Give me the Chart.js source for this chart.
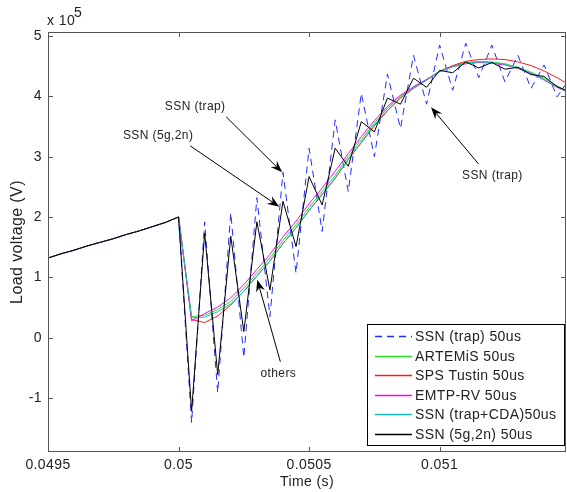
<!DOCTYPE html>
<html>
<head>
<meta charset="utf-8">
<script src="https://cdn.jsdelivr.net/npm/chart.js@4/dist/chart.umd.min.js"></script>
<style>
  html, body { margin: 0; padding: 0; background: #fff; }
</style>
</head>
<body>
<canvas id="chart" width="567" height="492"></canvas>
<script>
// time axis (s), one sample every 50 us
const time = [0.0495, 0.04955, 0.0496, 0.04965, 0.0497, 0.04975, 0.0498, 0.04985, 0.0499, 0.04995,
  0.05, 0.05005, 0.0501, 0.05015, 0.0502, 0.05025, 0.0503, 0.05035, 0.0504, 0.05045,
  0.0505, 0.05055, 0.0506, 0.05065, 0.0507, 0.05075, 0.0508, 0.05085, 0.0509, 0.05095,
  0.051, 0.05105, 0.0511, 0.05115, 0.0512, 0.05125, 0.0513, 0.05135, 0.0514, 0.05145, 0.0515];

// load voltage, in units of 1e5 V
const ssnTrap = [1.32, 1.39, 1.45, 1.52, 1.58, 1.64, 1.71, 1.77, 1.84, 1.91,
  2.00, -1.41, 1.92, -0.91, 2.07, -0.33, 2.32, 0.35, 2.74, 1.07,
  3.14, 1.76, 3.61, 2.42, 4.05, 3.00, 4.37, 3.47, 4.68, 3.87,
  4.85, 4.10, 4.88, 4.31, 4.85, 4.24, 4.68, 4.13, 4.52, 3.99, 4.31];
const artemis = [1.32, 1.39, 1.45, 1.52, 1.58, 1.64, 1.71, 1.77, 1.84, 1.91,
  2.00, 0.35, 0.37, 0.47, 0.60, 0.82, 1.07, 1.32, 1.61, 1.87,
  2.16, 2.42, 2.69, 3.00, 3.28, 3.56, 3.80, 4.00, 4.15, 4.28,
  4.42, 4.50, 4.56, 4.58, 4.57, 4.54, 4.48, 4.40, 4.30, 4.17, 4.07];
const spsTustin = [1.32, 1.39, 1.45, 1.52, 1.58, 1.64, 1.71, 1.77, 1.84, 1.91,
  2.00, 0.30, 0.25, 0.36, 0.54, 0.77, 1.02, 1.27, 1.56, 1.82,
  2.11, 2.37, 2.64, 2.95, 3.23, 3.51, 3.76, 3.97, 4.13, 4.27,
  4.41, 4.51, 4.58, 4.61, 4.62, 4.61, 4.57, 4.51, 4.42, 4.31, 4.18];
const emtpRv = [1.32, 1.39, 1.45, 1.52, 1.58, 1.64, 1.71, 1.77, 1.84, 1.91,
  2.00, 0.28, 0.40, 0.51, 0.66, 0.88, 1.13, 1.38, 1.67, 1.93,
  2.22, 2.48, 2.76, 3.05, 3.33, 3.60, 3.83, 4.02, 4.16, 4.28,
  4.41, 4.49, 4.54, 4.56, 4.55, 4.52, 4.46, 4.38, 4.27, 4.15, 4.05];
const ssnCda = [1.32, 1.39, 1.45, 1.52, 1.58, 1.64, 1.71, 1.77, 1.84, 1.91,
  2.00, 0.33, 0.34, 0.43, 0.56, 0.77, 1.02, 1.27, 1.56, 1.82,
  2.11, 2.38, 2.65, 2.96, 3.24, 3.53, 3.77, 3.98, 4.14, 4.27,
  4.41, 4.49, 4.55, 4.57, 4.56, 4.53, 4.47, 4.39, 4.28, 4.16, 4.06];
const ssn5g2n = [1.32, 1.39, 1.45, 1.52, 1.58, 1.64, 1.71, 1.77, 1.84, 1.91,
  2.00, -1.22, 1.73, -0.61, 1.68, 0.10, 1.92, 0.79, 2.26, 1.51,
  2.67, 2.20, 3.14, 2.84, 3.58, 3.41, 3.97, 3.87, 4.30, 4.15,
  4.43, 4.39, 4.57, 4.47, 4.56, 4.45, 4.48, 4.36, 4.33, 4.16, 4.07];

const seriesNames = ['SSN (trap) 50us', 'ARTEMiS 50us', 'SPS Tustin 50us', 'EMTP-RV 50us',
  'SSN (trap+CDA)50us', 'SSN (5g,2n) 50us'];
const seriesColors = ['#1f2bff', '#22e022', '#ff1a1a', '#ff00ff', '#14c0c0', '#000000'];

const xTicks = [0.0495, 0.05, 0.0505, 0.051];
const yTicks = [-1, 0, 1, 2, 3, 4, 5];
const xRange = [0.0495, 0.051484];
const yRange = [-1.895, 5.066];

// arrows drawn on the plot, in data units
const notes = [
  { text: 'SSN (trap)', at: [0.0500637, 3.82], from: [0.0501825, 3.66], tip: [0.050397, 2.74] },
  { text: 'SSN (5g,2n)', at: [0.0499218, 3.34], from: [0.0500445, 3.18], tip: [0.0503857, 2.17] },
  { text: 'others', at: [0.0503822, -0.60], from: [0.050390, -0.40], tip: [0.0503014, 0.96] },
  { text: 'SSN (trap)', at: [0.0512021, 2.69], from: [0.0511488, 2.88], tip: [0.0509670, 3.82] }
];

const FONT = '"Liberation Sans", Arial, Helvetica, sans-serif';
const TEXT = '#222';

function points(values) {
  return values.map((v, i) => ({ x: time[i], y: v }));
}

function dataset(i, values, order, dash) {
  return {
    label: seriesNames[i],
    data: points(values),
    borderColor: seriesColors[i],
    backgroundColor: seriesColors[i],
    borderWidth: 1,
    borderDash: dash || [],
    pointRadius: 0,
    tension: 0,
    order: order
  };
}

function drawArrow(ctx, x0, y0, x1, y1) {
  const ang = Math.atan2(y1 - y0, x1 - x0);
  const len = 12, half = 4.5, notch = 8;
  const cx = Math.cos(ang), cy = Math.sin(ang);
  ctx.beginPath();
  ctx.moveTo(x0, y0);
  ctx.lineTo(x1 - cx * notch, y1 - cy * notch);
  ctx.stroke();
  const bx = x1 - cx * len, by = y1 - cy * len;
  ctx.beginPath();
  ctx.moveTo(x1, y1);
  ctx.lineTo(bx - cy * half, by + cx * half);
  ctx.lineTo(x1 - cx * notch, y1 - cy * notch);
  ctx.lineTo(bx + cy * half, by - cx * half);
  ctx.closePath();
  ctx.fill();
}

const matlabLook = {
  id: 'matlabLook',
  beforeDraw(chart) {
    chart.ctx.letterSpacing = '0.4px';
  },
  afterDatasetsDraw(chart) {
    const { ctx, chartArea: a, scales: { x, y } } = chart;
    ctx.save();
    // axes box with inward ticks
    ctx.strokeStyle = '#555';
    ctx.lineWidth = 1;
    ctx.strokeRect(a.left + 0.5, a.top + 0.5, a.right - a.left - 1, a.bottom - a.top - 1);
    ctx.beginPath();
    xTicks.forEach(v => {
      const px = Math.round(x.getPixelForValue(v)) + 0.5;
      ctx.moveTo(px, a.bottom); ctx.lineTo(px, a.bottom - 5);
      ctx.moveTo(px, a.top); ctx.lineTo(px, a.top + 5);
    });
    yTicks.forEach(v => {
      const py = Math.round(y.getPixelForValue(v)) + 0.5;
      ctx.moveTo(a.left, py); ctx.lineTo(a.left + 5, py);
      ctx.moveTo(a.right, py); ctx.lineTo(a.right - 5, py);
    });
    ctx.stroke();

    // exponent label
    ctx.fillStyle = TEXT;
    ctx.font = '14px ' + FONT;
    ctx.textBaseline = 'alphabetic';
    ctx.textAlign = 'left';
    ctx.fillText('x 10', a.left - 1, a.top - 7);
    ctx.fillText('5', a.left + 26, a.top - 15);

    // annotations
    ctx.font = '12px ' + FONT;
    ctx.textAlign = 'center';
    ctx.textBaseline = 'middle';
    notes.forEach(n => {
      ctx.strokeStyle = '#000';
      ctx.fillStyle = '#000';
      drawArrow(ctx, x.getPixelForValue(n.from[0]), y.getPixelForValue(n.from[1]),
        x.getPixelForValue(n.tip[0]), y.getPixelForValue(n.tip[1]));
      ctx.fillStyle = TEXT;
      ctx.fillText(n.text, x.getPixelForValue(n.at[0]), y.getPixelForValue(n.at[1]));
    });

    // legend box
    const w = 197, h = 121;
    const lx = a.right - 2 - w, ly = a.bottom - 7 - h;
    ctx.fillStyle = '#fff';
    ctx.fillRect(lx, ly, w, h);
    ctx.strokeStyle = '#000';
    ctx.strokeRect(lx + 0.5, ly + 0.5, w, h);
    ctx.font = '14px ' + FONT;
    ctx.textAlign = 'left';
    seriesNames.forEach((name, i) => {
      const ry = Math.round(ly + 12 + i * 19.6) + 0.5;
      ctx.strokeStyle = seriesColors[i];
      ctx.lineWidth = 1.5;
      ctx.setLineDash(i === 0 ? [7, 5] : []);
      ctx.beginPath();
      ctx.moveTo(lx + 8, ry);
      ctx.lineTo(lx + 45, ry);
      ctx.stroke();
      ctx.setLineDash([]);
      ctx.fillStyle = TEXT;
      ctx.fillText(name, lx + 48, ry + 1);
    });
    ctx.restore();
  }
};

new Chart(document.getElementById('chart'), {
  type: 'line',
  data: {
    datasets: [
      dataset(0, ssnTrap, 5, [7, 5]),
      dataset(1, artemis, 4),
      dataset(2, spsTustin, 3),
      dataset(3, emtpRv, 2),
      dataset(4, ssnCda, 1),
      dataset(5, ssn5g2n, 0)
    ]
  },
  options: {
    responsive: false,
    animation: false,
    events: [],
    layout: { padding: { top: 32, right: 1, left: 0, bottom: 0 } },
    plugins: { legend: { display: false }, tooltip: { enabled: false } },
    scales: {
      x: {
        type: 'linear',
        min: xRange[0],
        max: xRange[1],
        grid: { display: false, drawTicks: false },
        border: { display: false },
        afterBuildTicks: s => { s.ticks = xTicks.map(v => ({ value: v })); },
        afterFit: s => { s.height = 40; },
        ticks: {
          font: { family: FONT, size: 14 }, color: TEXT, padding: 5,
          maxRotation: 0, autoSkip: false, callback: v => String(v)
        },
        title: {
          display: true, text: 'Time (s)', color: TEXT,
          font: { family: FONT, size: 14 }, padding: { top: 0, bottom: 1 }
        }
      },
      y: {
        type: 'linear',
        min: yRange[0],
        max: yRange[1],
        grid: { display: false, drawTicks: false },
        border: { display: false },
        afterBuildTicks: s => { s.ticks = yTicks.map(v => ({ value: v })); },
        afterFit: s => { s.width = 48; },
        ticks: {
          font: { family: FONT, size: 14 }, color: TEXT, padding: 6,
          autoSkip: false, callback: v => String(v)
        },
        title: {
          display: true, text: 'Load voltage (V)', color: TEXT,
          font: { family: FONT, size: 16 }, padding: { top: 8, bottom: 0 }
        }
      }
    }
  },
  plugins: [matlabLook]
});
</script>
</body>
</html>
